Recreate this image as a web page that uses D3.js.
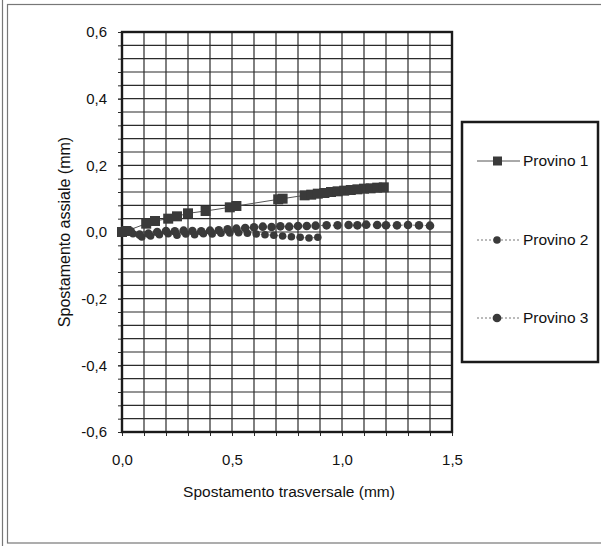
<!DOCTYPE html>
<html>
<head>
<meta charset="utf-8">
<script src="https://cdn.jsdelivr.net/npm/d3@7"></script>
<style>
  html, body { margin: 0; padding: 0; background: #fff; }
  svg { display: block; font-family: "Liberation Sans", Arial, sans-serif; }
</style>
</head>
<body>
<svg id="chart" width="601" height="546"></svg>
<script>
// Provino 1 — square markers, solid connecting line
const p1X = [0.00, 0.02, 0.11, 0.15, 0.21, 0.25, 0.30, 0.38, 0.49, 0.52, 0.71, 0.73, 0.83, 0.86, 0.89, 0.92, 0.95, 0.98, 1.01, 1.04, 1.07, 1.10, 1.13, 1.16, 1.19];
const p1Y = [0.000, 0.003, 0.025, 0.033, 0.040, 0.047, 0.056, 0.063, 0.074, 0.078, 0.098, 0.100, 0.110, 0.112, 0.115, 0.117, 0.120, 0.122, 0.124, 0.126, 0.128, 0.130, 0.131, 0.133, 0.134];

// Provino 2 — small round markers, dotted line
const p2X = [0.00, 0.05, 0.09, 0.13, 0.17, 0.21, 0.25, 0.29, 0.33, 0.37, 0.41, 0.45, 0.49, 0.53, 0.57, 0.61, 0.65, 0.69, 0.73, 0.77, 0.81, 0.85, 0.89];
const p2Y = [0.000, -0.005, -0.015, -0.012, -0.008, -0.005, -0.010, -0.006, -0.008, -0.005, -0.006, -0.004, -0.003, -0.002, -0.004, -0.006, -0.008, -0.010, -0.012, -0.014, -0.016, -0.018, -0.016];

// Provino 3 — round markers, dotted line
const p3X = [0.00, 0.04, 0.08, 0.12, 0.16, 0.20, 0.24, 0.28, 0.32, 0.36, 0.40, 0.44, 0.48, 0.52, 0.56, 0.60, 0.64, 0.68, 0.72, 0.76, 0.80, 0.84, 0.88, 0.93, 0.98, 1.03, 1.07, 1.11, 1.16, 1.20, 1.25, 1.30, 1.35, 1.40];
const p3Y = [0.000, 0.002, -0.008, -0.005, 0.000, 0.003, 0.002, 0.004, 0.003, 0.002, 0.004, 0.005, 0.008, 0.010, 0.012, 0.014, 0.016, 0.015, 0.017, 0.016, 0.018, 0.018, 0.019, 0.020, 0.020, 0.021, 0.020, 0.022, 0.021, 0.020, 0.020, 0.021, 0.020, 0.019];

const seriesNames = ["Provino 1", "Provino 2", "Provino 3"];
const xTicks = [0.0, 0.5, 1.0, 1.5];
const yTicks = [-0.6, -0.4, -0.2, 0.0, 0.2, 0.4, 0.6];
const xTitle = "Spostamento trasversale (mm)";
const yTitle = "Spostamento assiale (mm)";

const svg = d3.select("#chart");
const ink = "#2b2b2b";
const fmt = v => d3.format(".1f")(v).replace(".", ",").replace("−", "-");

// outer frame
svg.append("line").attr("x1", 2.5).attr("x2", 2.5).attr("y1", 0).attr("y2", 546)
  .attr("stroke", "#777").attr("stroke-width", 1.2);
svg.append("rect").attr("x", 7.5).attr("y", 4.5).attr("width", 600).attr("height", 538.5)
  .attr("fill", "none").attr("stroke", "#777").attr("stroke-width", 1.2);

const x = d3.scaleLinear().domain([0, 1.5]).range([122, 452]);
const y = d3.scaleLinear().domain([-0.6, 0.6]).range([432, 32]);

// grid: every 0.1 across, every 0.04 up
const g = svg.append("g");
g.selectAll("line.vx").data(d3.range(1, 15).map(i => i * 0.1)).join("line")
  .attr("x1", d => x(d)).attr("x2", d => x(d)).attr("y1", y(0.6)).attr("y2", y(-0.6))
  .attr("stroke", ink).attr("stroke-width", 1.2);
g.selectAll("line.hy").data(d3.range(1, 30).map(i => -0.6 + i * 0.04)).join("line")
  .attr("x1", x(0)).attr("x2", x(1.5)).attr("y1", d => y(d)).attr("y2", d => y(d))
  .attr("stroke", ink).attr("stroke-width", 1.2);

// axes
const yAxis = d3.axisLeft(y).tickValues(d3.range(0, 31).map(i => -0.6 + i * 0.04))
  .tickSize(4).tickFormat("");
svg.append("g").attr("transform", `translate(${x(0)},0)`).call(yAxis)
  .call(a => a.select(".domain").remove())
  .call(a => a.selectAll("line").attr("stroke", ink));
const yLab = d3.axisLeft(y).tickValues(yTicks).tickSize(4).tickPadding(11).tickFormat(fmt);
svg.append("g").attr("transform", `translate(${x(0)},0)`).call(yLab)
  .call(a => a.select(".domain").remove())
  .call(a => a.selectAll("line").attr("stroke", ink))
  .call(a => a.selectAll("text").attr("font-size", 15).attr("fill", "#111")
    .attr("font-family", "Liberation Sans, Arial, sans-serif"));

const xAxis = d3.axisBottom(x).tickValues(d3.range(0, 16).map(i => i * 0.1))
  .tickSize(4).tickFormat("");
svg.append("g").attr("transform", `translate(0,${y(-0.6)})`).call(xAxis)
  .call(a => a.select(".domain").remove())
  .call(a => a.selectAll("line").attr("stroke", ink));
const xLab = d3.axisBottom(x).tickValues(xTicks).tickSize(4).tickPadding(18).tickFormat(fmt);
svg.append("g").attr("transform", `translate(0,${y(-0.6)})`).call(xLab)
  .call(a => a.select(".domain").remove())
  .call(a => a.selectAll("line").attr("stroke", ink))
  .call(a => a.selectAll("text").attr("font-size", 15).attr("fill", "#111")
    .attr("font-family", "Liberation Sans, Arial, sans-serif"));

// plot border
svg.append("rect").attr("x", x(0)).attr("y", y(0.6))
  .attr("width", x(1.5) - x(0)).attr("height", y(-0.6) - y(0.6))
  .attr("fill", "none").attr("stroke", "#1a1a1a").attr("stroke-width", 2.4);

// titles
svg.append("text").attr("x", (x(0) + x(1.5)) / 2 + 2).attr("y", 497)
  .attr("text-anchor", "middle").attr("font-size", 15.5).attr("fill", "#111").text(xTitle);
svg.append("text").attr("transform", `translate(70,${y(0)}) rotate(-90)`)
  .attr("text-anchor", "middle").attr("font-size", 16).attr("fill", "#111").text(yTitle);

// series
const line = d3.line().x(d => x(d[0])).y(d => y(d[1]));
const s1 = p1X.map((v, i) => [v, p1Y[i]]);
const s2 = p2X.map((v, i) => [v, p2Y[i]]);
const s3 = p3X.map((v, i) => [v, p3Y[i]]);
const markFill = "#3a3a3a";

svg.append("path").datum(s2).attr("d", line).attr("fill", "none")
  .attr("stroke", "#777").attr("stroke-width", 1).attr("stroke-dasharray", "2,2");
svg.append("path").datum(s3).attr("d", line).attr("fill", "none")
  .attr("stroke", "#777").attr("stroke-width", 1).attr("stroke-dasharray", "2,2");
svg.append("path").datum(s1).attr("d", line).attr("fill", "none")
  .attr("stroke", "#555").attr("stroke-width", 1);

svg.append("g").selectAll("path").data(s2).join("path")
  .attr("transform", d => `translate(${x(d[0])},${y(d[1])})`)
  .attr("d", d3.symbol(d3.symbolCircle, 45)).attr("fill", markFill);
svg.append("g").selectAll("path").data(s3).join("path")
  .attr("transform", d => `translate(${x(d[0])},${y(d[1])})`)
  .attr("d", d3.symbol(d3.symbolCircle, 58)).attr("fill", markFill);
svg.append("g").selectAll("rect").data(s1).join("rect")
  .attr("x", d => x(d[0]) - 5).attr("y", d => y(d[1]) - 5)
  .attr("width", 10).attr("height", 10).attr("fill", markFill);

// legend
const lg = svg.append("g");
lg.append("rect").attr("x", 462).attr("y", 122).attr("width", 136).attr("height", 240)
  .attr("fill", "#fff").attr("stroke", "#1a1a1a").attr("stroke-width", 2.5);
const legendY = [161, 240, 318];
seriesNames.forEach((name, i) => {
  const ly = legendY[i];
  const row = lg.append("g");
  row.append("line").attr("x1", 477).attr("x2", 520).attr("y1", ly).attr("y2", ly)
    .attr("stroke", i === 0 ? "#555" : "#777").attr("stroke-width", 1)
    .attr("stroke-dasharray", i === 0 ? null : "2,2");
  if (i === 0) {
    row.append("rect").attr("x", 493).attr("y", ly - 4.5).attr("width", 9).attr("height", 9)
      .attr("fill", markFill);
  } else {
    row.append("path").attr("transform", `translate(497,${ly})`)
      .attr("d", d3.symbol(d3.symbolCircle, i === 1 ? 45 : 60)).attr("fill", markFill);
  }
  row.append("text").attr("x", 523).attr("y", ly + 5).attr("font-size", 15.5)
    .attr("fill", "#111").text(name);
});
</script>
</body>
</html>
